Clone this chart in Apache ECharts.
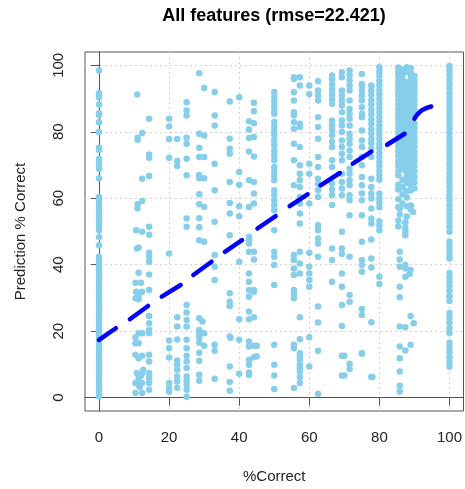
<!DOCTYPE html>
<html>
<head>
<meta charset="utf-8">
<script src="https://cdn.jsdelivr.net/npm/echarts@6/dist/echarts.min.js"></script>
<style>html,body{margin:0;padding:0;background:#fff;}#c{width:465px;height:489px;}</style>
</head>
<body>
<div id="c"></div>
<script>
// ---- data ----
const tickValues = [0, 20, 40, 60, 80, 100];
const titleText = 'All features (rmse=22.421)';
const xName = '%Correct';
const yName = 'Prediction % Correct';

// x = 0 column
const col0Y = [0.4,1.3,2.1,3.0,3.9,4.7,5.6,6.6,7.4,8.2,9.1,10.1,10.9,11.7,12.6,13.6,14.4,15.2,16.1,17.1,17.9,18.7,19.6,20.6,21.4,22.2,23.1,24.1,24.9,25.7,26.6,27.6,28.4,29.2,30.1,31.1,31.9,32.7,33.6,34.6,35.4,36.2,37.1,38.1,38.9,39.7,40.6,41.6,42.4,45.9,48.3,50.4,51.3,52.4,53.4,54.3,55.5,56.4,57.6,58.5,59.6,60.4,66.0,68.9,69.9,71.1,71.9,74.5,75.2,79.9,82.9,85.1,85.6,88.2,90.4,90.9,91.6,98.4];
// x = 100 column
const col100Y = [99.8,98.5,97.1,95.8,94.4,93.1,91.7,90.4,89.1,87.7,86.4,85.0,83.7,82.3,81.0,79.6,78.3,76.9,75.6,74.2,72.9,71.5,70.2,68.8,67.5,66.1,64.8,63.4,62.1,60.7,59.4,58.0,56.7,55.3,54.0,52.6,51.4,49.9,46.9,45.6,44.3,42.9,41.9,37.5,36.2,34.8,33.4,32.1,30.5,29.1,25.5,24.1,22.7,21.0,19.5,16.5,15.1,13.7,12.1,10.6,9.3];
// x = 80 column
const col80Y = [99.4,98.0,96.7,95.3,94.0,92.6,91.3,89.9,88.6,87.2,85.9,84.5,83.2,81.8,80.5,79.1,77.8,76.4,75.1,73.7,72.4,71.0,69.7,68.3,67.0,65.6,61.4,60.0,58.7,57.3,53.1,51.8,50.4,36.4,34.2];
// dense band 85-90 (five sub-columns)
const band1Y = [99.3,97.9,96.6,95.1,93.8,92.3,91.0,89.6,88.1,86.8,85.3,84.0,82.6,81.1,79.8,78.4,77.0,75.6,74.1,72.8,71.2,69.9,68.3,66.9,64.1,62.6,59.7,57.4,53.2,51.5];
const band2Y = [98.7,97.2,95.9,94.4,93.1,91.7,90.2,88.9,87.4,86.1,84.7,83.3,81.9,80.5,79.1,77.7,76.3,74.9,73.4,72.1,70.5,68.7,65.5,63.3,61.2,58.4];
const band3Y = [99.4,98.0,94.9,93.5,92.0,90.6,89.3,87.8,86.5,85.0,83.7,82.2,80.8,79.5,78.0,76.6,75.2,73.8,72.4,71.0,69.5,67.9,66.3,64.5,62.1,60.2,57.6,54.5];
const band4Y = [99.1,97.6,96.3,94.8,93.4,92.0,90.6,89.1,87.8,86.3,84.9,83.5,82.1,80.6,79.2,77.9,76.4,75.0,73.6,72.2,70.7,69.2,67.6,65.8,63.9,62.4,57.8];
const band5Y = [96.8,95.3,93.9,92.5,91.1,89.7,88.2,86.8,85.4,82.5,81.1,79.7,78.3,76.9,75.5,74.0,72.6,71.1,69.6,68.1,66.4,64.8,63.0];

// scattered points, left part (x 10-33)
const ptsLeft = [[10.9,91.2],[14.3,83.9],[11,78.2],[12.3,79.6],[11,77.6],[14.3,73.2],[14.3,72.2],[12.3,65.9],[14.3,66.7],[11,58.2],[12.3,59.2],[11,56.9],[10.6,50.4],[14.3,51.4],[12.3,49.9],[14.3,49],[10.8,44.9],[11.3,45.2],[14.3,43.6],[14.3,42.4],[14.3,40.9],[11.3,37.6],[14.3,37.1],[10.4,34.6],[12,34.6],[10.6,31.9],[11.3,30.9],[12.3,31.9],[14.3,32.4],[10.4,29.9],[11.3,29.6],[14.3,24.6],[14.3,22.4],[14.3,20.4],[11.3,19.4],[12.3,19.4],[14.3,19.4],[10.4,18.2],[10.4,16.4],[11.3,16.4],[10.4,12.9],[11.3,11.9],[12.3,12.6],[14.3,12.9],[14.3,10.9],[10.8,7.4],[11.3,5.9],[12,6.6],[12.3,7.4],[14.3,7.4],[14.3,5.9],[10.4,4.4],[11.3,4.0],[12.3,4.4],[14.3,4.4],[10.4,1.4],[12.3,1.4],[14.3,2.4],[12.6,8.4],[11.6,3.2],
[20,83.9],[20,81.6],[20,77.8],[22.3,77.8],[20,72.2],[22.3,71.2],[22.3,69.7],[20,43.4],[22.3,24.2],[22.3,21.4],[20,17.2],[20,14.9],[22.3,17.5],[22.3,11.2],[20,12.1],[22.3,9.9],[22.3,8.4],[22.3,6.4],[22.3,4.9],[20,4.4],[20,2.9],[20,1.8],[22.3,3.0],
[25,88.9],[25,86.4],[25,84.9],[25,78.2],[25,76.4],[25,71.9],[25,66.9],[25,53.9],[25,51.4],[25,27.9],[25,25.6],[25,23.4],[25,21.4],[25,17.4],[25,14.9],[25,12.6],[25,10.9],[25,8.9],[25,6.4],[25,5.2],[25,3.9],[25,2.4],[25,0.3],
[28.6,97.6],[30,93.2],[28.6,79.4],[30,78.9],[28.6,75.2],[28.6,72.4],[30,72.4],[28.6,67],[30,66],[28.6,66],[28.6,61.2],[28.6,58.2],[30,57.4],[28.6,54],[28.6,51.3],[28.6,47.4],[30,46.9],[28.6,23.9],[29.5,22.9],[28.6,20.4],[30,19.4],[28.6,19.2],[28.6,18],[28.6,16.5],[30,15.6],[28.6,13.5],[28.6,11.1],[28.6,6.9],[28.6,5.1],
[33,92],[33,84.9],[33,81.9],[33,70.4],[33,62.4],[33,52.9],[33,42.9],[33,39.4],[33,35.4],[33,15.9],[33,14.1],[33,5.7]];

// scattered points, middle part (x 37-67)
const ptsMid = [[37.3,89.1],[37.3,77.9],[37.3,74.9],[37.3,73.4],[37.3,64.9],[37.3,58.6],[37.3,55.4],[37.3,48.9],[37.3,31.4],[37.3,28.9],[37.3,27.6],[37.3,18.4],[37.5,18],[37.3,9.4],[37.3,4.7],[37.3,2.1],
[40,90.4],[40,67.9],[40,64.1],[40,57.6],[40,54.6],[40,40.9],[40,23.6],[40,17.4],[40,7.2],
[42.8,83.2],[42.8,80.7],[42.8,78.1],[42.8,74.1],[42.8,65.4],[42.8,57.4],[44.2,88.7],[44.2,86.2],[44.2,82.6],[44.2,78.4],[44.2,72.6],[44.2,64.9],[44.2,61.4],[44.2,58.4],[42.8,48.4],[42.8,47.4],[42.8,46.4],[42.8,43.9],[42.8,37.4],[42.8,34.9],[42.8,32.4],[44.2,32.4],[42.8,30.4],[42.8,25.9],[42.8,23.6],[42.8,16.9],[42.8,15.4],[42.8,11.4],[42.8,9.9],[42.8,7.6],[42.8,6.8],[44.2,43.9],[44.2,41.6],[44.2,31.9],[44.2,24.2],[44.2,15.6],[44.2,12.2],[45,15.6],[45,12.5],
[50,92],[50,90.5],[50,89],[50,87.6],[50,86.3],[50,85.4],[50,83],[50,81.6],[50,80.3],[50,79],[50,77.4],[50,76],[50,74.4],[50,72.9],[50,71.4],[50,69.4],[50,68],[50,66.7],[50,65.4],[50,62.4],[50,61],[50,59.4],[50,58],[50,56.4],[50,50.4],[50,43.9],[50,42.4],[50,39.9],[50,33.9],[50,15.9],[50,9.9],[50,6.7],[50,2.6],
[55.6,96.4],[55.6,95.9],[55.6,91.9],[55.6,89.4],[55.6,85.9],[55.6,84.9],[55.6,82.9],[55.6,80.9],[55.6,76.4],[55.6,71.4],[55.6,63.9],[57.3,96.4],[57.3,93.9],[57.3,82.4],[57.3,81.4],[57.3,75.4],[57.3,69.9],[57.3,67.4],[57.3,65.4],[57.3,63.4],[57.3,60.4],[57.3,58.4],[57.3,55.4],[57.3,52.4],[55.6,42.9],[55.6,41.4],[55.6,38.9],[55.6,36.9],[55.6,32.4],[55.6,31.2],[55.6,29.9],[55.6,15.9],[55.6,14.9],[55.6,2.9],[57.3,43.9],[57.3,40.4],[57.3,37.4],[57.3,24.2],[57.3,17.6],[57.3,13.4],[57.3,12.4],[57.3,11.4],[57.3,9.9],[57.3,8.9],[57.3,7.9],[57.3,6.2],[57.3,4.4],
[60,93.9],[60,91.4],[60,70.4],[60,67.4],[60,58.4],[60,43.6],[60,39.4],[60,37.4],[60,35.4],[60,33.4],[60,18.2],[60,9.4],
[62.5,95.2],[62.5,92.4],[62.5,90.9],[62.5,89.4],[62.5,84.4],[62.5,81.4],[62.5,77.9],[62.5,72.4],[62.5,69.4],[62.5,65.9],[62.5,64.4],[62.5,62.4],[62.5,60.4],[62.5,51.9],[62.5,50.4],[62.5,47.9],[62.5,46.4],[62.5,42.4],[62.5,27.4],[62.5,22.6],[62.5,14.1],[62.5,1.2],
[66.5,96.9],[66.5,95.7],[66.5,94.2],[66.5,92.8],[66.5,91.3],[66.5,89.8],[66.5,88.4],[66.5,83.4],[66.5,82],[66.5,80.5],[66.5,78.9],[66.5,77],[66.5,75.4],[66.5,71.4],[66.5,69.4],[66.5,64.5],[66.5,62.7],[66.5,61],[66.5,58],[66.5,44.9],[66.5,41.4],[66.5,34.9]];

// scattered points, right part (x 69-90)
const ptsRight = [[69.3,97.9],[69.3,96.4],[69.3,92.4],[69.3,90.9],[69.3,89.4],[69.3,87.9],[69.3,85.9],[69.3,83.4],[69.3,81.9],[69.3,79.9],[69.3,77.4],[69.3,75.4],[69.3,73.4],[69.3,71.4],[69.3,67.4],[69.3,64.9],[69.3,62.9],[69.3,60.9],[71.5,98.4],[71.5,97],[71.5,95.4],[71.5,93.9],[71.5,92.4],[71.5,89.4],[71.5,86.9],[71.5,85.4],[71.5,83.9],[71.5,81.9],[71.5,79.4],[71.5,77.9],[71.5,76.4],[71.5,74.4],[71.5,72.4],[71.5,68.9],[71.5,67.4],[71.5,65.4],[71.5,63.9],[71.5,60.9],[71.5,59.4],[71.5,54.9],
[69.3,49.9],[69.3,44.9],[69.3,43.2],[69.3,37.4],[69.3,33.4],[69.3,27.9],[69.3,21.6],[69.3,12.6],[69.3,6.7],[71.5,42.4],[71.5,30.9],[71.5,28.9],[71.5,10.2],[71.5,8.6],
[75,97.4],[75,94.4],[75,93.9],[75,92.4],[75,90.9],[75,89.4],[75,87.4],[75,85.4],[75,84.4],[75,80.4],[75,77.4],[75,75.4],[75,72.4],[75,69.9],[75,66.4],[75,63.9],[75,61.4],[75,59.4],[75,54.9],[75,46.9],[75,41.4],[75,39.9],[75,37.9],[75,26.7],[75,24.9],[75,13.4],
[77.7,93.9],[77.7,92.4],[77.7,91.1],[77.7,89.5],[77.7,88.2],[77.7,86.6],[77.7,85.3],[77.7,83.7],[77.7,82.4],[77.7,80.8],[77.7,79.5],[77.7,77.9],[77.7,76.6],[77.7,75.0],[77.7,72.4],[77.7,65.9],[77.7,63.4],[77.7,61.4],[77.7,59.9],[77.7,56.9],[77.7,53.9],[77.7,52.4],[77.7,47.6],[77.7,41.9],[77.7,39.2],[77.7,22.7],[77.7,6.2],[70,12.6],[70,6.7],[75,13.3],[78,6.2],
[85.8,56.9],[85.8,55.1],[87.4,52.8],[87.4,51.1],[88.9,56.7],[89.6,55.9],[85.8,43.9],[85.8,41.6],[85.8,39.4],[85.8,33.4],[85.8,30.2],[85.8,21.4],[85.8,15.4],[85.8,11.9],[85.8,7.9],[85.8,3.6],[85.8,1.9],[87.4,49.9],[87.4,48.9],[87.4,39.9],[87.4,38.9],[87.4,36.4],[87.4,21.2],[87.4,14.2],[88.9,38.4],[88.6,37.2],[88.9,24.6],[88.9,15.9],[89.8,22.4]];

// dark-blue fitted segments
const fitSegments = [
  [[0,17.4],[4.8,20.9]],
  [[8.8,23.6],[14,27.6]],
  [[17.9,30.4],[23.3,33.9]],
  [[26.9,36.9],[32.1,40.9]],
  [[35.9,43.9],[40.8,47.4]],
  [[45.2,50.9],[50.4,54.6]],
  [[54.4,57.6],[59.5,61.2]],
  [[63.2,63.9],[68.7,67.6]],
  [[72.4,70.4],[77.7,74.0]],
  [[82.2,76.1],[87.2,79.4]],
  [[90.0,83.9],[91.0,85.4],[92.4,86.6],[94.8,87.6]]
];

// ---- build ----
const pts = [];
col0Y.forEach(y => pts.push([0, y]));
col100Y.forEach(y => pts.push([100, y]));
col80Y.forEach(y => pts.push([80, y]));
band1Y.forEach(y => pts.push([85.4, y]));
band2Y.forEach(y => pts.push([86.6, y]));
band3Y.forEach(y => pts.push([87.8, y]));
band4Y.forEach(y => pts.push([89.0, y]));
band5Y.forEach(y => pts.push([90.0, y]));
ptsLeft.forEach(p => pts.push(p));
ptsMid.forEach(p => pts.push(p));
ptsRight.forEach(p => pts.push(p));

const font = 'Liberation Sans, Arial, sans-serif';
const axisCommon = {
  type: 'value', min: -4, max: 104,
  axisLine: { show: true, lineStyle: { color: '#555', width: 1 } },
  axisTick: { show: true, inside: false, length: 8, customValues: tickValues, lineStyle: { color: '#555', width: 1 } },
  axisLabel: { customValues: tickValues, color: '#222', fontSize: 15, fontFamily: font, margin: 19 },
  splitLine: { show: true, lineStyle: { color: '#d3d3d3', type: [2, 3], width: 1 } },
  nameLocation: 'middle',
  nameTextStyle: { color: '#222', fontSize: 15, fontFamily: font }
};

const series = [{
  type: 'scatter', data: pts, symbol: 'circle', symbolSize: 6.5,
  itemStyle: { color: '#87CEEB', opacity: 1 }, silent: true, z: 2
}];
fitSegments.forEach(seg => series.push({
  type: 'line', data: seg, showSymbol: false, symbol: 'none', smooth: seg.length > 2,
  lineStyle: { color: '#0000FF', width: 4.5, cap: 'round', join: 'round' }, silent: true, z: 3
}));

const chart = echarts.init(document.getElementById('c'), null, { renderer: 'canvas' });
chart.setOption({
  animation: false,
  backgroundColor: '#fff',
  grid: { left: 85, top: 52, width: 379, height: 361, show: true, borderColor: '#555', borderWidth: 1, containLabel: false },
  xAxis: Object.assign({}, axisCommon, { name: xName, nameGap: 58 }),
  yAxis: Object.assign({}, axisCommon, {
    name: yName, nameGap: 57,
    axisLabel: Object.assign({}, axisCommon.axisLabel, { rotate: 90 })
  }),
  graphic: [{
    type: 'text', x: 274, y: 16,
    style: { text: titleText, textAlign: 'center', textVerticalAlign: 'middle', font: 'bold 18px ' + font, fill: '#000' }
  }],
  series: series
});
</script>
</body>
</html>
